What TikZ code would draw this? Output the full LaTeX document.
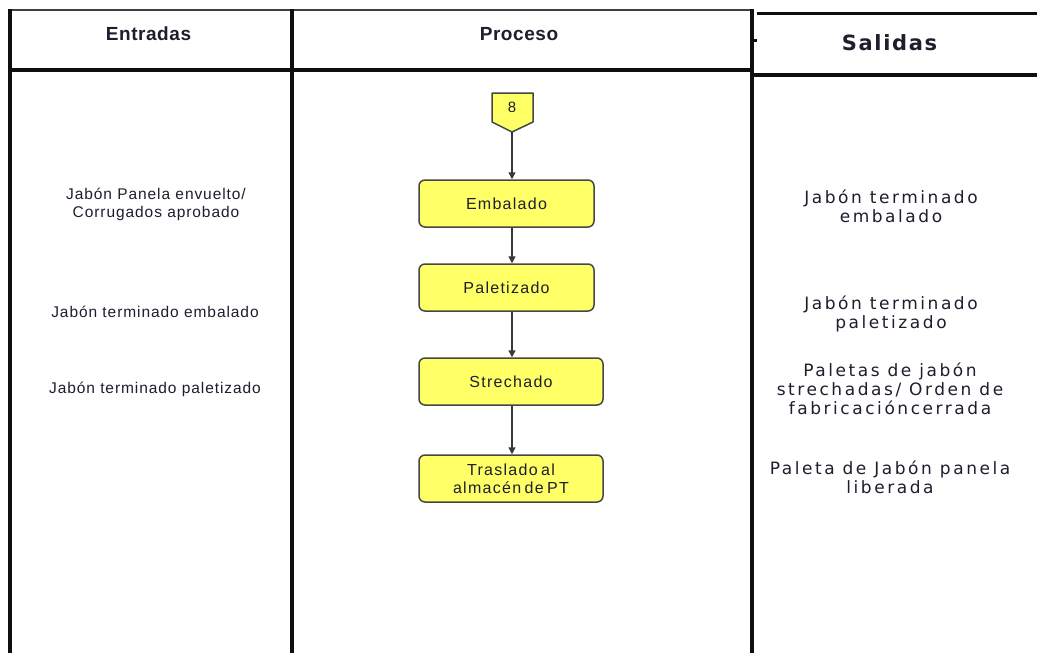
\documentclass[tikz,border=0pt]{standalone}
\usepackage{fontspec}
\usetikzlibrary{arrows.meta}
\setmainfont{Liberation Sans}
\newfontfamily\lefttxtfont[LetterSpace=6]{Liberation Sans}
\newfontfamily\boxtxtfont[LetterSpace=8,WordSpace=0.6]{Liberation Sans}
\newfontfamily\hdrtxtfont[LetterSpace=3]{Liberation Sans}
\newfontfamily\righttxtfont[LetterSpace=15]{DejaVu Sans}
\newfontfamily\saltxtfont[LetterSpace=8]{DejaVu Sans}
\definecolor{ink}{RGB}{30,30,45}
\definecolor{boxyellow}{RGB}{255,255,102}
\definecolor{boxedge}{RGB}{70,70,70}
\definecolor{rulecol}{RGB}{15,15,15}
\begin{document}
\begin{tikzpicture}[x=1pt,y=-1pt,
  hdr/.style={inner sep=0pt,text=ink,font=\hdrtxtfont\bfseries\fontsize{19}{23}\selectfont},
  salhdr/.style={inner sep=0pt,text=ink,font=\saltxtfont\bfseries\fontsize{21}{25}\selectfont},
  lefttxt/.style={inner sep=0pt,align=center,text=ink,font=\lefttxtfont\fontsize{15.5}{18.5}\selectfont},
  righttxt/.style={inner sep=0pt,align=center,text=ink,font=\righttxtfont\fontsize{17}{19}\selectfont},
  procbox/.style={draw=boxedge,line width=1.5pt,fill=boxyellow,rounded corners=6pt,align=center,text=ink,
    font=\boxtxtfont\fontsize{16}{18}\selectfont,inner sep=0pt},
  flowarrow/.style={draw=boxedge!80!black,line width=1.5pt,-{Triangle[length=7pt,width=7pt]}},
  frame/.style={draw=rulecol,line width=3.5pt},
  thinframe/.style={draw=rulecol!80,line width=2pt}
]
\useasboundingbox (0,0) rectangle (1037,653);
\fill[white] (0,0) rectangle (1037,653);

% table frame
\draw[thinframe] (10,10) -- (752,10);
\draw[frame] (10,9) -- (10,653);
\draw[frame] (292,9) -- (292,653);
\draw[frame] (752,9) -- (752,653);
\draw[frame,line width=4pt] (8,70) -- (754,70);
\draw[frame,line width=3pt] (757,13) -- (1037,13);
\draw[frame,line width=3.5pt] (752,75) -- (1037,75);
\draw[frame,line width=3pt] (752,40) -- (757,40);

% headers
\node[hdr,anchor=base] (hin) at (148.5,40) {Entradas};
\node[hdr,anchor=base] (hpr) at (519,40) {Proceso};
\node[salhdr,anchor=base] (hout) at (889.5,50) {Salidas};

% inputs (base = last line baseline)
\node[lefttxt,anchor=base] (in1) at (156,217.5) {Jabón Panela envuelto/\\Corrugados aprobado};
\node[lefttxt,anchor=base] (in2) at (155,317) {Jabón terminado embalado};
\node[lefttxt,anchor=base] (in3) at (155,393) {Jabón terminado paletizado};

% outputs (base = last line baseline)
\node[righttxt,anchor=base] (out1) at (891,222) {Jabón terminado\\embalado};
\node[righttxt,anchor=base] (out2) at (891,328) {Jabón terminado\\paletizado};
\node[righttxt,anchor=base] (out3) at (890,414) {Paletas de jabón\\strechadas/ Orden de\\fabricacióncerrada};
\node[righttxt,anchor=base] (out4) at (890,493) {Paleta de Jabón panela\\liberada};

% process
\coordinate (c8tip) at (512,132);
\draw[draw=boxedge,line width=1.5pt,fill=boxyellow,line join=round]
  (492,93) -- (533,93) -- (533,122) -- (c8tip) -- (492,122) -- cycle;
\node[text=ink,font=\boxtxtfont\fontsize{15}{17}\selectfont,inner sep=0pt] (c8) at (512,107) {8};

\node[procbox,minimum width=175pt,minimum height=47pt] (emb) at (506.5,203.5) {Embalado};
\node[procbox,minimum width=175pt,minimum height=47pt] (pal) at (506.5,287.5) {Paletizado};
\node[procbox,minimum width=184pt,minimum height=47pt] (str) at (511,381.5) {Strechado};
\node[procbox,minimum width=184pt,minimum height=47pt] (tra) at (511,478.5) {Traslado al\\almacén de PT};

\draw[flowarrow] (c8tip) -- (c8tip |- emb.north);
\draw[flowarrow] (c8tip |- emb.south) -- (c8tip |- pal.north);
\draw[flowarrow] (c8tip |- pal.south) -- (c8tip |- str.north);
\draw[flowarrow] (c8tip |- str.south) -- (c8tip |- tra.north);
\end{tikzpicture}
\end{document}
